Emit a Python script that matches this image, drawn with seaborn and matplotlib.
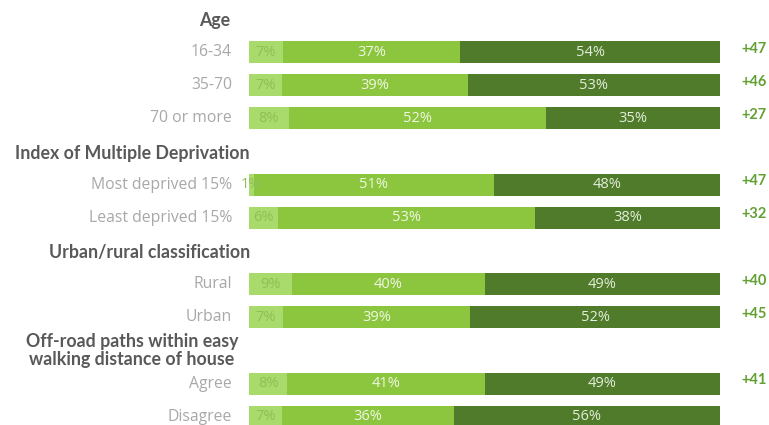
import matplotlib
matplotlib.use("Agg")
import matplotlib.pyplot as plt
import matplotlib.transforms as mtransforms
import numpy as np
import pandas as pd
import seaborn as sns

# ---- data ----
groups = ["Age", "Index of Multiple Deprivation", "Urban/rural classification",
          "Off-road paths within easy\nwalking distance of house"]
group_rows = [["16-34", "35-70", "70 or more"],
              ["Most deprived 15%", "Least deprived 15%"],
              ["Rural", "Urban"],
              ["Agree", "Disagree"]]
light_vals = [7, 7, 8, 1, 6, 9, 7, 8, 7]
mid_vals = [37, 39, 52, 51, 53, 40, 39, 41, 36]
dark_vals = [54, 53, 35, 48, 38, 49, 52, 49, 56]
net_labels = ["+47", "+46", "+27", "+47", "+32", "+40", "+45", "+41", None]

# ---- layout ----
W, H = 769, 425
bar_left_px, bar_right_px = 249, 720
slot0_px, slot_px = 18.85, 33.15
header_right_px = [230, 250, 250, 238]
label_right_px = 232
net_left_px = 741

c_light = "#a8da6c"
c_mid = "#8cc63f"
c_dark = "#4f7b2b"

sns.set_theme(style="white")
plt.rcParams["font.family"] = ["Open Sans", "DejaVu Sans"]

# build slot positions
rows, slots, header_slots = [], [], []
k = 0
for g, rs in zip(groups, group_rows):
    header_slots.append(k)
    k += 1
    for r in rs:
        rows.append(r)
        slots.append(k)
        k += 1

light = np.array(light_vals, float)
mid = np.array(mid_vals, float)
dark = np.array(dark_vals, float)
tot = light + mid + dark
lp = light / tot * 100
mp = mid / tot * 100
dp = dark / tot * 100

df = pd.DataFrame({"row": rows, "slot": slots,
                   "c1": lp, "c2": lp + mp, "c3": lp + mp + dp})

fig = plt.figure(figsize=(W / 100, H / 100), dpi=100)
ax = fig.add_axes([bar_left_px / W, 0, (bar_right_px - bar_left_px) / W, 1])

bh = 22 / slot_px
for col, colr in [("c3", c_dark), ("c2", c_mid), ("c1", c_light)]:
    sns.barplot(data=df, x=col, y="slot", orient="h", native_scale=True,
                color=colr, saturation=1, width=bh, errorbar=None,
                linewidth=0, ax=ax)

ax.set_xlim(0, 100)
ax.set_ylim((H - slot0_px) / slot_px, -slot0_px / slot_px)
ax.axis("off")

trans = mtransforms.blended_transform_factory(fig.transFigure, ax.transData)

# headers
for g, s, hx in zip(groups, header_slots, header_right_px):
    ax.text(hx / W, s + (0.05 if "\n" not in g else 0.0), g, transform=trans,
            ha="right", va="center", fontsize=12.8, fontweight="bold",
            color="#595959", family=["Lato", "DejaVu Sans"],
            multialignment="center", linespacing=1.1, clip_on=False)

# row labels, segment labels, net labels
for i, (r, s) in enumerate(zip(rows, slots)):
    ax.text(label_right_px / W, s, r, transform=trans, ha="right", va="center",
            fontsize=11.3, color="#a8a8a8", clip_on=False)
    ax.text(lp[i] / 2, s, f"{light_vals[i]}%", ha="center", va="center",
            fontsize=10.5, color="#8dbf55", clip_on=False)
    ax.text(lp[i] + mp[i] / 2, s, f"{mid_vals[i]}%", ha="center", va="center",
            fontsize=10.5, color="#eef7e2")
    ax.text(lp[i] + mp[i] + dp[i] / 2, s, f"{dark_vals[i]}%", ha="center",
            va="center", fontsize=10.5, color="#e4eedb")
    if net_labels[i]:
        ax.text(net_left_px / W, s - 0.1, net_labels[i], transform=trans,
                ha="left", va="center", fontsize=10.5, fontweight="bold",
                color="#63a033", family=["Lato", "DejaVu Sans"], clip_on=False)

fig.savefig("out.png", dpi=100)
